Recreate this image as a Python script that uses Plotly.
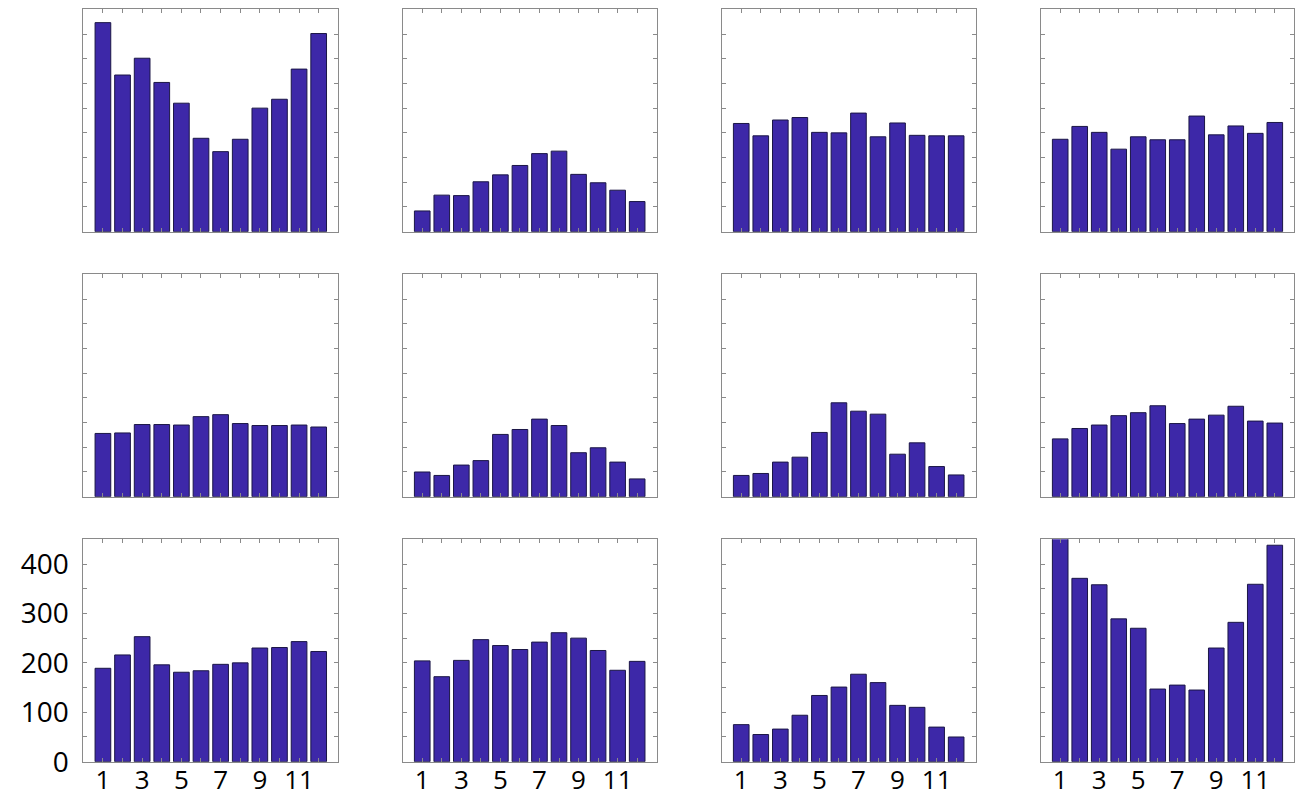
"""3x4 grid of monthly bar charts."""

import plotly.graph_objects as go

W, H = 1304, 798
BAR_FILL = "#3D28A8"
BAR_EDGE = "#1B1646"
FRAME = "#8A8A8A"

# ----- data ------------------------------------------------------------------

months = list(range(1, 13))
x_ticktext = ["1", "", "3", "", "5", "", "7", "", "9", "", "11", ""]
y_tickvals = [0, 50, 100, 150, 200, 250, 300, 350, 400]
y_ticktext = ["0", "", "100", "", "200", "", "300", "", "400"]

r1c1 = [423, 317, 351, 302, 260, 189, 162, 187, 250, 268, 329, 401]
r1c2 = [42, 74, 73, 101, 115, 134, 158, 163, 116, 99, 84, 61]
r1c3 = [219, 194, 226, 231, 201, 200, 240, 192, 220, 195, 194, 194]
r1c4 = [187, 213, 201, 167, 192, 186, 186, 234, 196, 214, 199, 221]

r2c1 = [128, 129, 146, 146, 145, 162, 166, 148, 144, 144, 145, 141]
r2c2 = [50, 43, 64, 73, 126, 136, 157, 144, 89, 99, 70, 36]
r2c3 = [43, 47, 70, 80, 130, 190, 173, 167, 86, 109, 61, 44]
r2c4 = [117, 138, 145, 164, 170, 184, 148, 157, 165, 183, 153, 149]

r3c1 = [189, 216, 253, 196, 181, 184, 197, 200, 230, 231, 243, 223]
r3c2 = [204, 172, 205, 247, 235, 227, 242, 261, 250, 225, 185, 203]
r3c3 = [75, 55, 66, 94, 134, 151, 177, 160, 114, 110, 70, 50]
r3c4 = [452, 371, 358, 289, 270, 147, 155, 145, 230, 282, 359, 438]

panels = [
    [r1c1, r1c2, r1c3, r1c4],
    [r2c1, r2c2, r2c3, r2c4],
    [r3c1, r3c2, r3c3, r3c4],
]

# pixel extents of each panel's plot area
col_px = [(83.3, 338.3), (402.7, 656.7), (721.7, 975.7), (1040.7, 1294.3)]
row_px = [(9.3, 231.7), (274.3, 496.7), (539.3, 761.7)]

# ----- figure ----------------------------------------------------------------

fig = go.Figure()
layout = {}
n = 0
for r, row in enumerate(panels):
    for c, vals in enumerate(row):
        n += 1
        xa = "x" if n == 1 else f"x{n}"
        ya = "y" if n == 1 else f"y{n}"
        fig.add_bar(
            x=months, y=vals, xaxis=xa, yaxis=ya, width=0.8,
            marker=dict(color=BAR_FILL, line=dict(color=BAR_EDGE, width=1)),
            showlegend=False,
        )
        x0, x1 = col_px[c]
        y0, y1 = row_px[r]
        bottom = r == len(panels) - 1
        left = c == 0
        layout["xaxis" if n == 1 else f"xaxis{n}"] = dict(
            domain=[x0 / W, x1 / W], anchor=ya, range=[0, 13],
            tickvals=months, ticktext=x_ticktext if bottom else [""] * 12,
            tickfont=dict(size=26), ticklabelstandoff=-5,
            ticks="inside", ticklen=4, tickcolor=FRAME, automargin=False,
            showline=True, linecolor=FRAME, linewidth=1, mirror="ticks",
            showgrid=False, zeroline=False, fixedrange=True,
        )
        layout["yaxis" if n == 1 else f"yaxis{n}"] = dict(
            domain=[1 - y1 / H, 1 - y0 / H], anchor=xa, range=[0, 450],
            tickvals=y_tickvals,
            ticktext=y_ticktext if (bottom and left) else [""] * len(y_tickvals),
            ticks="inside", ticklen=4, tickcolor=FRAME, ticklabelstandoff=8,
            automargin=False,
            showline=True, linecolor=FRAME, linewidth=1, mirror="ticks",
            showgrid=False, zeroline=False, fixedrange=True,
        )

fig.update_layout(
    **layout,
    autosize=False, width=W, height=H,
    margin=dict(l=0, r=0, t=0, b=0),
    paper_bgcolor="white", plot_bgcolor="white",
    font=dict(family="Open Sans, Noto Sans, sans-serif", size=28, color="black"),
    bargap=0.2,
)

# page body has an 8px default margin; drop it so the figure sits at 0,0
fig.write_html(
    "out.html",
    config={"displayModeBar": False, "responsive": False},
    post_script="document.body.style.margin='0';",
)
